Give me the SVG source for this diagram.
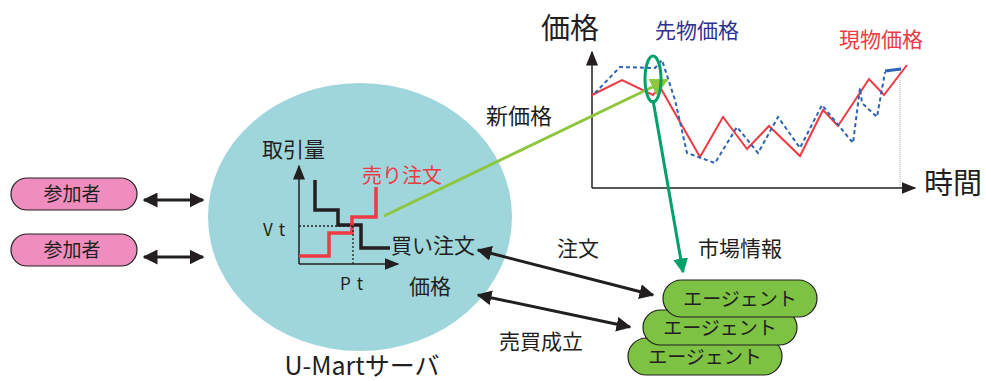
<svg xmlns="http://www.w3.org/2000/svg" width="986" height="381" viewBox="0 0 986 381">
<style>
text{font-family:"Noto Sans CJK JP","Noto Sans",sans-serif;fill:#231f20}
.pill{fill:#ef8dbe;stroke:#231f20;stroke-width:1.2}
.agent{fill:#7dc242;stroke:#231f20;stroke-width:1.2}
.blk{stroke:#231f20;fill:none}
</style>
<defs>
<marker id="ah" viewBox="0 0 10 10" refX="9" refY="5" markerWidth="5" markerHeight="5" orient="auto-start-reverse" markerUnits="strokeWidth"><path d="M0,0L10,5L0,10z" fill="#231f20"/></marker>
<marker id="ahs" viewBox="0 0 10 10" refX="9" refY="5" markerWidth="10" markerHeight="10" orient="auto" markerUnits="strokeWidth"><path d="M0,1L10,5L0,9z" fill="#231f20"/></marker>
<marker id="ahg" viewBox="0 0 10 10" refX="9" refY="5" markerWidth="6" markerHeight="6" orient="auto" markerUnits="strokeWidth"><path d="M0,0L10,5L0,10z" fill="#8dc63f"/></marker>
<marker id="ahdg" viewBox="0 0 10 10" refX="9" refY="5" markerWidth="5" markerHeight="5" orient="auto" markerUnits="strokeWidth"><path d="M0,0L10,5L0,10z" fill="#00a06a"/></marker>
</defs>

<g id="server">
<ellipse cx="360" cy="217" rx="152" ry="134" fill="#9fd6dc"/>
<text x="362" y="375" font-size="25" text-anchor="middle">U-Martサーバ</text>
</g>

<g id="participant1">
<rect x="11" y="178" width="126" height="32" rx="16" class="pill"/>
<text x="72" y="201" font-size="19" text-anchor="middle">参加者</text>
</g>
<g id="participant2">
<rect x="11" y="234" width="126" height="32" rx="16" class="pill"/>
<text x="72" y="257" font-size="19" text-anchor="middle">参加者</text>
</g>

<g id="orderbook">
<line x1="299" y1="264" x2="299" y2="166" stroke="#231f20" stroke-width="1.5" marker-end="url(#ahs)"/>
<line x1="299" y1="264" x2="398" y2="264" stroke="#231f20" stroke-width="1.5" marker-end="url(#ahs)"/>
<polyline points="315,180 315,210 338,210 338,225 361,225 361,248 390,248" class="blk" stroke-width="3.5"/>
<polyline points="299,256 329,256 329,233 352,233 352,217 376,217 376,187" fill="none" stroke="#ee3a43" stroke-width="3.5"/>
<line x1="299" y1="226" x2="355" y2="226" stroke="#231f20" stroke-width="1.3" stroke-dasharray="2,2"/>
<line x1="353" y1="226" x2="353" y2="264" stroke="#231f20" stroke-width="1.3" stroke-dasharray="2,2"/>
<text x="262" y="157" font-size="21">取引量</text>
<text x="362" y="183" font-size="20" style="fill:#ee3a43">売り注文</text>
<text x="263" y="236" font-size="17" letter-spacing="6">Vt</text>
<text x="340" y="290" font-size="17" letter-spacing="6">Pt</text>
<text x="391" y="253" font-size="21">買い注文</text>
<text x="409" y="294" font-size="21">価格</text>
</g>

<g id="pricechart">
<line x1="592" y1="188" x2="592" y2="52" stroke="#231f20" stroke-width="1.5" marker-end="url(#ahs)"/>
<line x1="592" y1="188" x2="915" y2="188" stroke="#231f20" stroke-width="1.5" marker-end="url(#ahs)"/>
<line x1="900" y1="70" x2="900" y2="188" stroke="#999" stroke-width="0.8" stroke-dasharray="1,1"/>
<polyline points="592,95 622,80 653,95 660,87 700,157 723,117 747,149 769,126 800,156 823,110 838,126 869,79 884,95 907,65" fill="none" stroke="#ee3a43" stroke-width="2"/>
<polyline points="595,93 620,67 655,68 662,60 675,100 687,153 715,163 737,127 758,153 778,117 800,148 822,105 853,143 860,88 862,103 877,117 885,72" fill="none" stroke="#2e64b4" stroke-width="2" stroke-dasharray="4,3"/>
<line x1="885" y1="71" x2="901" y2="69" stroke="#2e64b4" stroke-width="3"/>
<text x="541" y="39" font-size="29">価格</text>
<text x="924" y="194" font-size="29">時間</text>
<text x="655" y="38" font-size="21" style="fill:#2e3192">先物価格</text>
<text x="839" y="47" font-size="21" style="fill:#ee3a43">現物価格</text>
</g>

<g id="agent3">
<rect x="628" y="338" width="154" height="37" rx="18.5" class="agent"/>
<text x="705" y="364" font-size="19" text-anchor="middle">エージェント</text>
</g>
<g id="agent2">
<rect x="643" y="310" width="154" height="35" rx="17.5" class="agent"/>
<text x="720" y="335" font-size="19" text-anchor="middle">エージェント</text>
</g>
<g id="agent1">
<rect x="663" y="280" width="154" height="37" rx="18.5" class="agent"/>
<text x="740" y="306" font-size="19" text-anchor="middle">エージェント</text>
</g>

<g id="connectors">
<line x1="144" y1="200" x2="203" y2="200" stroke="#231f20" stroke-width="3" marker-start="url(#ah)" marker-end="url(#ah)"/>
<line x1="144" y1="257" x2="203" y2="257" stroke="#231f20" stroke-width="3" marker-start="url(#ah)" marker-end="url(#ah)"/>
<line x1="478" y1="250" x2="653" y2="295" stroke="#231f20" stroke-width="3" marker-start="url(#ah)" marker-end="url(#ah)"/>
<line x1="478" y1="295" x2="630" y2="327" stroke="#231f20" stroke-width="3" marker-start="url(#ah)" marker-end="url(#ah)"/>
<line x1="384" y1="216" x2="667" y2="80" stroke="#8dc63f" stroke-width="3" marker-end="url(#ahg)"/>
<ellipse cx="653" cy="79" rx="8" ry="23" fill="none" stroke="#00a06a" stroke-width="3"/>
<line x1="653" y1="100" x2="683" y2="272" stroke="#00a06a" stroke-width="3" marker-end="url(#ahdg)"/>
<text x="486" y="124" font-size="22">新価格</text>
<text x="557" y="256" font-size="21">注文</text>
<text x="698" y="256" font-size="21">市場情報</text>
<text x="499" y="349" font-size="21">売買成立</text>
</g>
</svg>
